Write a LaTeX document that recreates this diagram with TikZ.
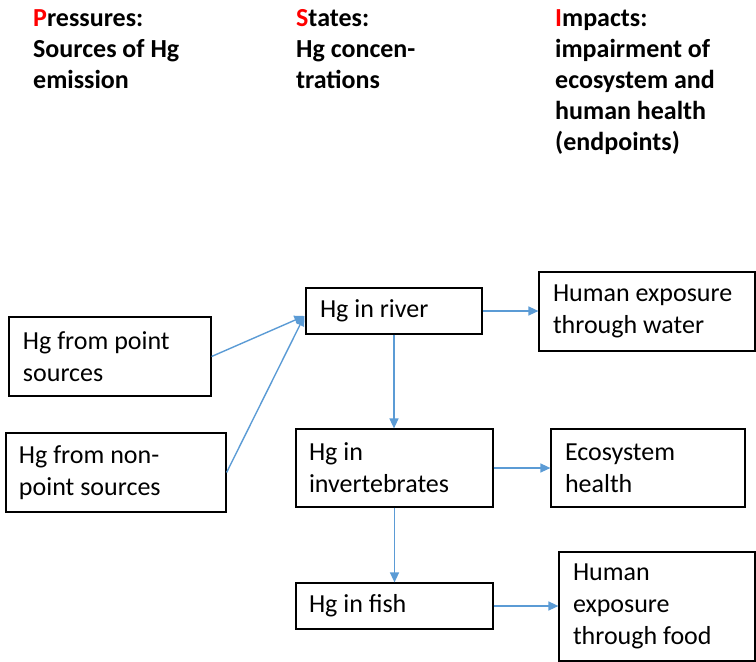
\documentclass[tikz,border=0pt]{standalone}
\usepackage{fontspec}
\setmainfont{Carlito}
\usetikzlibrary{arrows.meta,calc}
\definecolor{flowblue}{RGB}{91,155,213}
\definecolor{dpsired}{RGB}{255,0,0}
\begin{document}
\begin{tikzpicture}[x=1pt,y=1pt,
  every node/.style={font=\fontsize{26}{32}\selectfont},
  box/.style={draw=black,line width=1.2pt,rectangle,align=left,inner xsep=14pt,inner ysep=0pt,
    execute at begin node={\spaceskip=0pt\xspaceskip=0pt\relax}},
  head/.style={anchor=north west,inner sep=0pt,align=left,font=\fontsize{26}{31}\selectfont\bfseries},
  flow/.style={draw=flowblue,line width=1.4pt,-{Triangle[length=10pt,width=9pt]}}]
\useasboundingbox (0,0) rectangle (756,-662);

% column headings
\node[head] (hp) at (33,-9) {\textcolor{dpsired}{P}ressures:\\Sources of Hg\\emission};
\node[head] (hs) at (296,-9) {\textcolor{dpsired}{S}tates:\\Hg concen-\\trations};
\node[head] (hi) at (555,-9) {\textcolor{dpsired}{I}mpacts:\\impairment of\\ecosystem and\\human health\\(endpoints)};

% pressures
\node[box,minimum width=202pt,minimum height=79pt,text width=174pt] (pt) at (110,-356.5) {Hg from point\\sources};
\node[box,inner xsep=13pt,minimum width=220pt,minimum height=79pt,text width=194pt] (np) at (116,-472.5) {Hg from non-\\point sources};

% states
\node[box,minimum width=176pt,minimum height=46pt,text width=148pt] (river) at (394,-311) {Hg in river};
\node[box,inner xsep=13pt,minimum width=197pt,minimum height=78pt,text width=171pt] (inv) at (394.5,-468) {Hg in\\invertebrates};
\node[box,inner xsep=13pt,minimum width=197pt,minimum height=46pt,text width=171pt] (fish) at (394.5,-606) {Hg in fish};

% impacts
\node[box,minimum width=216pt,minimum height=79pt,text width=188pt] (water) at (647,-311.5) {Human exposure\\through water};
\node[box,minimum width=194pt,minimum height=78pt,text width=166pt] (eco) at (648,-468) {Ecosystem\\health};
\node[box,minimum width=196pt,minimum height=109pt,text width=168pt] (food) at (657,-606.5) {Human\\exposure\\through food};

% connectors
\coordinate (rin) at ($(river.west)+(-1,-5)$);
\draw[flow] (pt.east) -- (rin);
\draw[flow] (np.east) -- (rin);
\draw[flow] (river.east) -- (river.east -| water.west);
\draw[flow] (river.south) -- (river.south |- inv.north);
\draw[flow] (inv.east) -- (inv.east -| eco.west);
\draw[flow] (inv.south) -- (inv.south |- fish.north);
\draw[flow] (fish.east) -- (fish.east -| food.west);
\end{tikzpicture}
\end{document}
